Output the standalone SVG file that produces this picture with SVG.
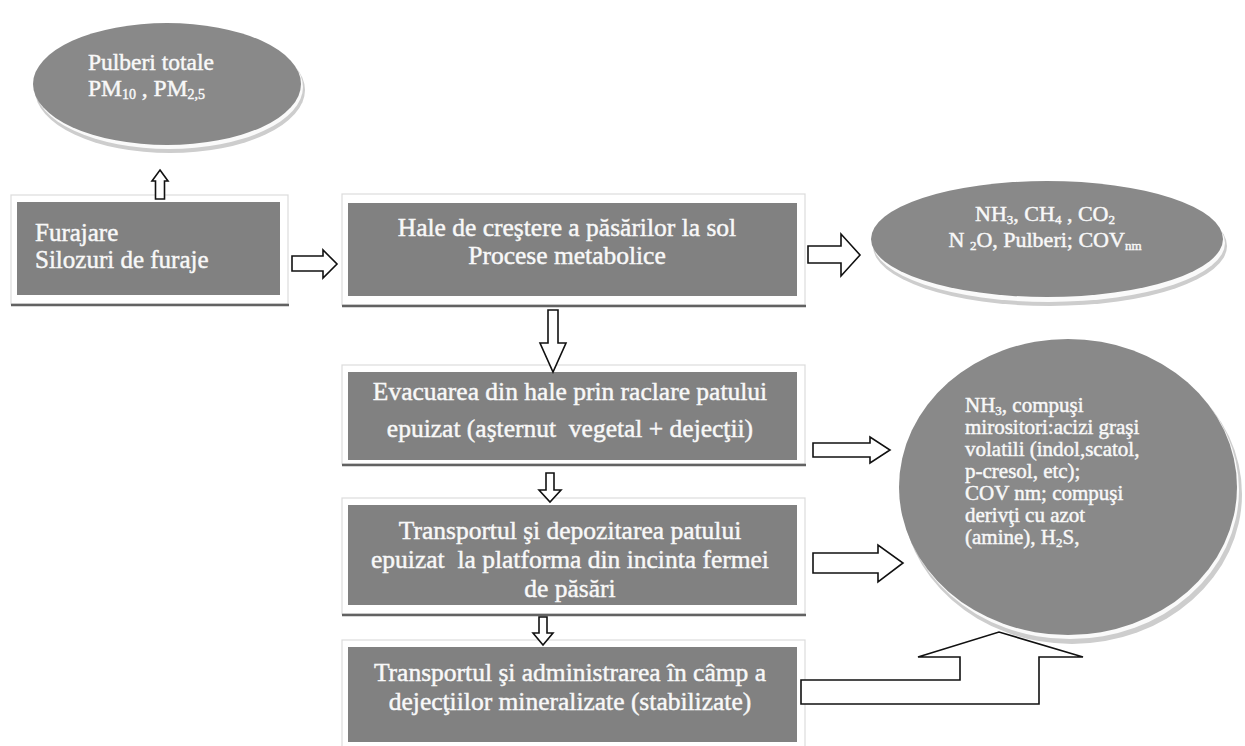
<svg xmlns="http://www.w3.org/2000/svg" width="1245" height="746" viewBox="0 0 1245 746">
<style>
.box{fill:#818181}
.frame{fill:none;stroke:#dcdcdc;stroke-width:1.2}
.shadow{stroke:#626262;stroke-width:2.5}
.ell{fill:#898989}
.rim{fill:#cdcdcd}
.gap{fill:#fafafa}
.t{font-family:"Liberation Serif","Times New Roman",serif;fill:#f8f8f8;stroke:#f8f8f8;stroke-width:0.45;white-space:pre}
.arr{fill:#fff;stroke:#111;stroke-width:1.6;stroke-linejoin:miter}
</style>
<rect width="1245" height="746" fill="#fff"/>

<g id="node-pulberi">
<ellipse class="rim" cx="170" cy="90" rx="135" ry="63"/>
<ellipse class="gap" cx="169" cy="87" rx="134" ry="62"/>
<ellipse class="ell" cx="167" cy="84" rx="134" ry="61"/>
<text class="t" font-size="23.5"><tspan x="88" y="70">Pulberi totale</tspan><tspan x="88" y="96">PM<tspan font-size="14" dy="3">10</tspan><tspan dy="-3"> , PM</tspan><tspan font-size="14" dy="3">2,5</tspan></tspan></text>
</g>

<g id="node-furajare">
<rect class="frame" x="11" y="195" width="277" height="109"/>
<line class="shadow" x1="11" y1="305" x2="289" y2="305"/>
<rect class="box" x="17" y="202" width="263" height="93"/>
<text class="t" font-size="25"><tspan x="35" y="241">Furajare</tspan><tspan x="35" y="268">Silozuri de furaje</tspan></text>
</g>

<g id="node-hale">
<rect class="frame" x="342" y="194" width="463" height="111"/>
<line class="shadow" x1="342" y1="306" x2="806" y2="306"/>
<rect class="box" x="348" y="203" width="449" height="93"/>
<text class="t" font-size="25.5" text-anchor="middle"><tspan x="567" y="236">Hale de creştere a păsărilor la sol</tspan><tspan x="567" y="264">Procese metabolice</tspan></text>
</g>

<g id="node-emisii-hale">
<ellipse class="rim" cx="1050" cy="246" rx="177" ry="60"/>
<ellipse class="gap" cx="1049" cy="243" rx="176" ry="59"/>
<ellipse class="ell" cx="1047" cy="239" rx="176" ry="58"/>
<text class="t" font-size="22" text-anchor="middle"><tspan x="1045" y="221">NH<tspan font-size="13" dy="3">3</tspan><tspan dy="-3">, CH</tspan><tspan font-size="13" dy="3">4</tspan><tspan dy="-3"> , CO</tspan><tspan font-size="13" dy="3">2</tspan></tspan><tspan x="1045" y="247">N <tspan font-size="13" dy="3">2</tspan><tspan dy="-3">O, Pulberi; COV</tspan><tspan font-size="13" dy="3">nm</tspan></tspan></text>
</g>

<g id="node-evacuarea">
<rect class="frame" x="342" y="365" width="463" height="99"/>
<line class="shadow" x1="342" y1="465" x2="806" y2="465"/>
<rect class="box" x="348" y="372" width="449" height="88"/>
<text class="t" font-size="25.5" text-anchor="middle"><tspan x="570" y="400">Evacuarea din hale prin raclare patului</tspan><tspan x="570" y="437">epuizat (aşternut  vegetal + dejecţii)</tspan></text>
</g>

<g id="node-depozitare">
<rect class="frame" x="342" y="498" width="463" height="116"/>
<line class="shadow" x1="342" y1="615" x2="806" y2="615"/>
<rect class="box" x="348" y="505" width="449" height="100"/>
<text class="t" font-size="25.5" text-anchor="middle"><tspan x="570" y="539">Transportul şi depozitarea patului</tspan><tspan x="570" y="568">epuizat  la platforma din incinta fermei</tspan><tspan x="570" y="597">de păsări</tspan></text>
</g>

<g id="node-camp">
<rect class="frame" x="342" y="640" width="463" height="110"/>
<rect class="box" x="348" y="647" width="449" height="95"/>
<text class="t" font-size="25.5" text-anchor="middle"><tspan x="570" y="681">Transportul şi administrarea în câmp a</tspan><tspan x="570" y="710">dejecţiilor mineralizate (stabilizate)</tspan></text>
</g>

<g id="node-emisii-dejectii">
<ellipse class="rim" cx="1072" cy="494" rx="170" ry="150"/>
<ellipse class="gap" cx="1070" cy="490" rx="169" ry="149"/>
<ellipse class="ell" cx="1068" cy="487" rx="169" ry="148"/>
<text class="t" font-size="21"><tspan x="965" y="412">NH<tspan font-size="13" dy="3">3</tspan><tspan dy="-3">, compuşi</tspan></tspan><tspan x="965" y="434">mirositori:acizi graşi</tspan><tspan x="965" y="456">volatili (indol,scatol,</tspan><tspan x="965" y="478">p-cresol, etc);</tspan><tspan x="965" y="500">COV nm; compuşi</tspan><tspan x="965" y="522">derivţi cu azot</tspan><tspan x="965" y="544">(amine), H<tspan font-size="13" dy="3">2</tspan><tspan dy="-3">S,</tspan></tspan></text>
</g>

<g id="connectors">
<polygon class="arr" points="160,170 168,181 164.5,181 164.5,199 155.5,199 155.5,181 152,181"/>
<polygon class="arr" points="292,256 323,256 323,250 337,264 323,278 323,271 292,271"/>
<polygon class="arr" points="808,246 841,246 841,234 860,255 841,276 841,263 808,263"/>
<polygon class="arr" points="548,310 558,310 558,343 566,343 553,372 540,343 548,343"/>
<polygon class="arr" points="546,473 554,473 554,490 561,490 550,502 539,490 546,490"/>
<polygon class="arr" points="539,617 547,617 547,633 553,633 543,645 533,633 539,633"/>
<polygon class="arr" points="813,443 870,443 870,437 890,450 870,463 870,457 813,457"/>
<polygon class="arr" points="813,553 878,553 878,545 903,563 878,582 878,573 813,573"/>
<polygon class="arr" points="801,680 960,680 960,657 918,657 999,632 1083,657 1039,657 1039,704 801,704"/>
</g>
</svg>
